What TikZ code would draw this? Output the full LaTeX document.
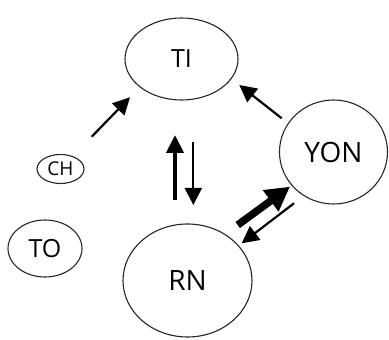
\documentclass[tikz,border=0pt]{standalone}
\usepackage{fontspec}
\setmainfont{Open Sans}
\usetikzlibrary{shapes.geometric,arrows.meta}
\begin{document}
\begin{tikzpicture}[x=1pt,y=1pt,
  ell/.style={draw=black!85, line width=1.1pt, ellipse, inner sep=0pt},
  thinarr/.style={line width=2.2pt, -{Triangle[length=17pt,width=17pt]}},
  medarr/.style={line width=4pt, -{Triangle[length=18pt,width=17pt]}},
  fatarr/.style={line width=7.5pt, -{Triangle[length=24pt,width=25pt]}}]
\useasboundingbox (0,0) rectangle (389,340);
\node[ell, minimum width=113pt, minimum height=82pt, font=\fontsize{25}{27}\selectfont] (TI) at (181.5,281) {TI};
\node[ell, minimum width=108pt, minimum height=104pt, font=\fontsize{28}{30}\selectfont] (YON) at (333.5,188) {YON};
\node[ell, minimum width=129pt, minimum height=113pt, font=\fontsize{28}{30}\selectfont] (RN) at (187.5,59.5) {RN};
\node[ell, minimum width=47pt, minimum height=29pt, font=\fontsize{19}{21}\selectfont] (CH) at (60.5,171) {CH};
\node[ell, minimum width=74pt, minimum height=57pt, font=\fontsize{25}{27}\selectfont] (TO) at (45,91.5) {TO};
% arrow end points
\coordinate (ch1) at (91.7,203.3);
\coordinate (ti1) at (130,242.7);
\coordinate (rn1) at (175,140);
\coordinate (ti2) at (175,205);
\coordinate (ti3) at (193.3,198.3);
\coordinate (rn2) at (193.3,135);
\coordinate (yon1) at (281.7,221.7);
\coordinate (ti4) at (239.3,255);
\coordinate (rn3) at (237.7,115);
\coordinate (yon2) at (290,153.3);
\coordinate (yon3) at (294,136.7);
\coordinate (rn4) at (241.7,96.7);
\draw[thinarr] (ch1) -- (ti1);
\draw[medarr] (rn1) -- (ti2);
\draw[thinarr] (ti3) -- (rn2);
\draw[thinarr] (yon1) -- (ti4);
\draw[fatarr] (rn3) -- (yon2);
\draw[thinarr] (yon3) -- (rn4);
\end{tikzpicture}
\end{document}
